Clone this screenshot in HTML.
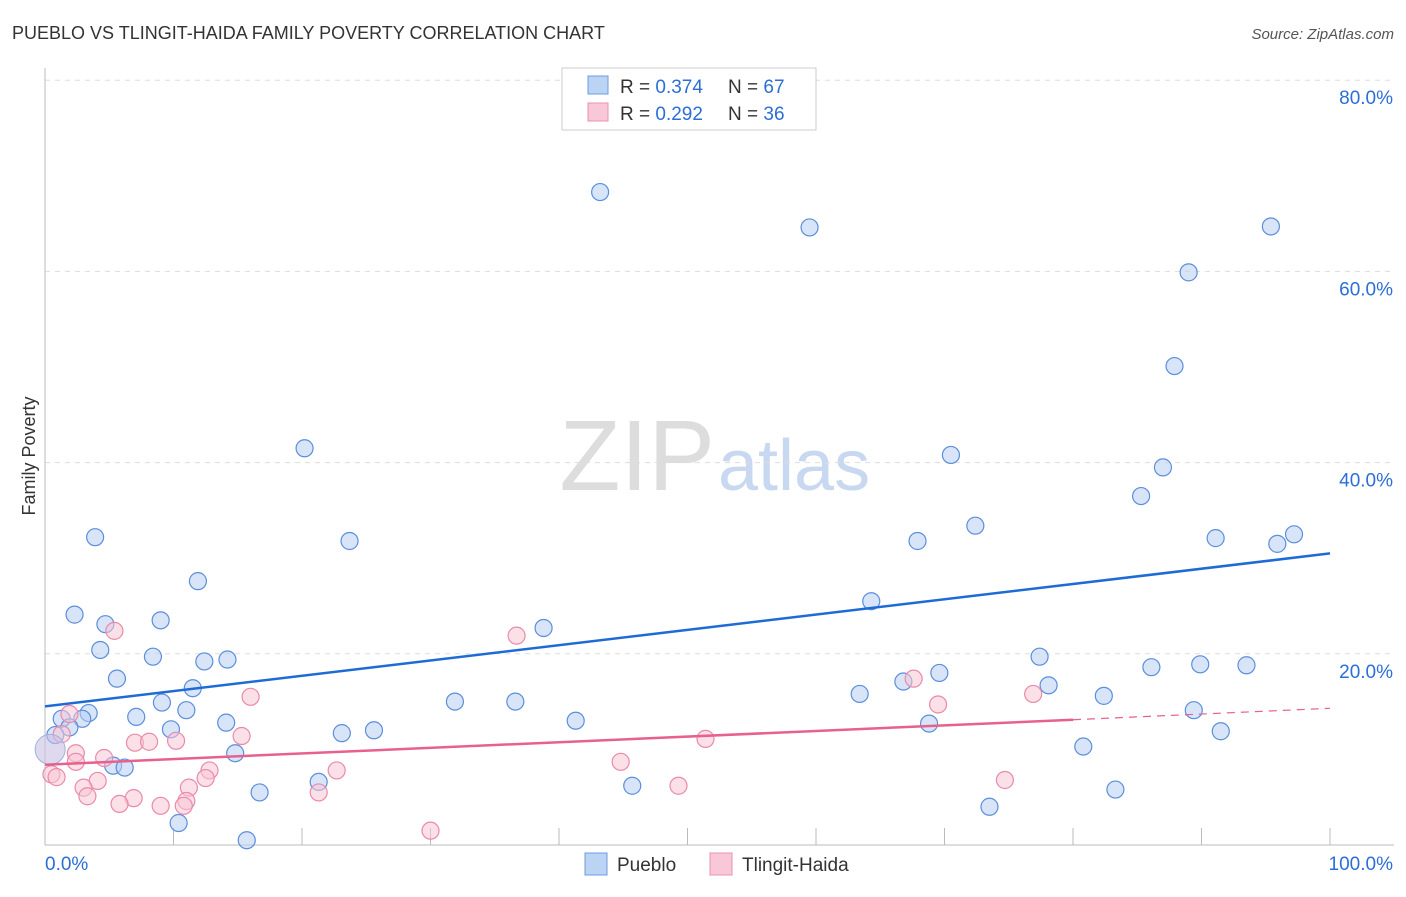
<!DOCTYPE html>
<html><head><meta charset="utf-8"><style>
body{margin:0;background:#fff;font-family:"Liberation Sans",sans-serif}
svg text{font-family:"Liberation Sans",sans-serif}
</style></head><body>
<svg id="c" width="1406" height="892">
<text x="12" y="39" font-size="18" fill="#333">PUEBLO VS TLINGIT-HAIDA FAMILY POVERTY CORRELATION CHART</text>
<text x="1394" y="39" font-size="15" fill="#555" font-style="italic" text-anchor="end">Source: ZipAtlas.com</text>
<text x="35" y="456" font-size="18" fill="#333" transform="rotate(-90 35 456)" text-anchor="middle">Family Poverty</text>
<text x="715" y="490" font-size="100" fill="#ddd" text-anchor="end" font-family="Liberation Serif">ZIP</text>
<text x="718" y="490" font-size="72" fill="#c8d8f0">atlas</text>
<g id="grid"></g><g id="marks"></g>
<g>
<rect x="562" y="68" width="254" height="62" fill="#fff" stroke="#ccc"/>
<rect x="588" y="76" width="20" height="18" fill="#bcd4f4" stroke="#6b9be0"/>
<rect x="588" y="103" width="20" height="18" fill="#f9c8d8" stroke="#ec8fae"/>
<text x="620" y="93" font-size="19" fill="#333">R = <tspan fill="#2b6fd6">0.374</tspan></text>
<text x="728" y="93" font-size="19" fill="#333">N = <tspan fill="#2b6fd6">67</tspan></text>
<text x="620" y="120" font-size="19" fill="#333">R = <tspan fill="#2b6fd6">0.292</tspan></text>
<text x="728" y="120" font-size="19" fill="#333">N = <tspan fill="#2b6fd6">36</tspan></text>
</g>
<g>
<rect x="585" y="853" width="22" height="22" fill="#bcd4f4" stroke="#6b9be0"/>
<text x="617" y="871" font-size="19" fill="#333">Pueblo</text>
<rect x="710" y="853" width="22" height="22" fill="#f9c8d8" stroke="#ec8fae"/>
<text x="742" y="871" font-size="19" fill="#333">Tlingit-Haida</text>
</g>
<text x="45" y="870" font-size="19" fill="#2b6fd6">0.0%</text>
<text x="1393" y="870" font-size="19" fill="#2b6fd6" text-anchor="end">100.0%</text>
</svg>
<script>
const yTicks=[20,40,60,80];
const blueX=[43.2,59.5,95.4,89.0,87.9,20.2,70.5,87.0,85.3,72.4,3.9,23.7,67.9,91.1,97.2,95.9,11.9,64.3,2.3,4.7,9.0,38.8,4.3,8.4,12.4,14.2,77.4,86.1,89.9,93.5,69.6,5.6,66.8,78.1,11.5,63.4,82.4,9.1,31.9,36.6,11.0,3.4,1.3,2.9,7.1,89.4,41.3,14.1,68.8,1.9,9.8,25.6,23.1,91.5,0.8,80.8,14.8,5.3,6.2,21.3,45.7,16.7,83.3,73.5,10.4,15.7];
const blueY=[68.3,64.6,64.7,59.9,50.1,41.5,40.8,39.5,36.5,33.4,32.2,31.8,31.8,32.1,32.5,31.5,27.6,25.5,24.1,23.1,23.5,22.7,20.4,19.7,19.2,19.4,19.7,18.6,18.9,18.8,18.0,17.4,17.1,16.7,16.4,15.8,15.6,14.9,15.0,15.0,14.1,13.8,13.2,13.2,13.4,14.1,13.0,12.8,12.7,12.3,12.1,12.0,11.7,11.9,11.5,10.3,9.6,8.3,8.1,6.6,6.2,5.5,5.8,4.0,2.3,0.5];
const pinkX=[5.4,36.7,16.0,76.9,67.6,69.5,1.9,1.3,15.3,7.0,8.1,10.2,51.4,2.4,4.6,2.4,44.8,12.8,22.7,0.5,0.9,12.5,4.1,74.7,3.0,11.2,49.3,3.3,21.3,6.9,11.0,5.8,9.0,10.8,30.0];
const pinkY=[22.4,21.9,15.5,15.8,17.4,14.7,13.7,11.6,11.4,10.7,10.8,10.9,11.1,9.6,9.1,8.7,8.7,7.8,7.8,7.4,7.1,7.0,6.7,6.8,6.0,6.0,6.2,5.1,5.5,4.9,4.6,4.3,4.1,4.1,1.5];
const blueTrend=[[0,14.5],[100,30.5]];
const pinkTrend=[[0,8.4],[80,13.1],[100,14.3]];
const X=v=>45+v*12.85, Y=v=>845-v*9.56;
const NS='http://www.w3.org/2000/svg';
function mk(t,a,p){const e=document.createElementNS(NS,t);for(const k in a)e.setAttribute(k,a[k]);p.appendChild(e);return e;}
const g=document.getElementById('grid'), m=document.getElementById('marks');
yTicks.forEach(t=>{
 const l=mk('line',{x1:45,x2:1394,y1:Y(t),y2:Y(t),stroke:'#ddd','stroke-dasharray':'5,5'},g);
 
 
 const tx=mk('text',{x:1393,y:Y(t)+24,'font-size':19,fill:'#2b6fd6','text-anchor':'end'},g);tx.textContent=t.toFixed(1)+'%';
 
 
});
mk('line',{x1:45,x2:45,y1:68,y2:845,stroke:'#bbb'},g);
mk('line',{x1:45,x2:1394,y1:845,y2:845,stroke:'#bbb'},g);
for(let i=0;i<=10;i++){mk('line',{x1:X(i*10),x2:X(i*10),y1:828,y2:845,stroke:'#bbb'},g);}
function dots(xs,ys,f,s,name){xs.forEach((x,i)=>{const c=mk('circle',{cx:X(x),cy:Y(ys[i]),r:8.5,fill:f,'fill-opacity':0.55,stroke:s,'stroke-width':1.2},m);
 
 });}
dots(blueX,blueY,'#b8d0f2','#5b8edb','pueblo-point');
dots(pinkX,pinkY,'#f8c6d6','#e98aaa','tlingit-point');
let b=mk('circle',{cx:X(0.4),cy:Y(10),r:15,fill:'#c9c0e6','fill-opacity':0.6,stroke:'#9fb0e0'},m);


let bl=mk('line',{x1:X(blueTrend[0][0]),y1:Y(blueTrend[0][1]),x2:X(blueTrend[1][0]),y2:Y(blueTrend[1][1]),stroke:'#1f6bd6','stroke-width':2.5},m);


let pl=mk('line',{x1:X(pinkTrend[0][0]),y1:Y(pinkTrend[0][1]),x2:X(pinkTrend[1][0]),y2:Y(pinkTrend[1][1]),stroke:'#e8608d','stroke-width':2.5},m);


let pd=mk('line',{x1:X(pinkTrend[1][0]),y1:Y(pinkTrend[1][1]),x2:X(pinkTrend[2][0]),y2:Y(pinkTrend[2][1]),stroke:'#e8608d','stroke-width':1.2,'stroke-dasharray':'8,6'},m);


</script>
</body></html>
